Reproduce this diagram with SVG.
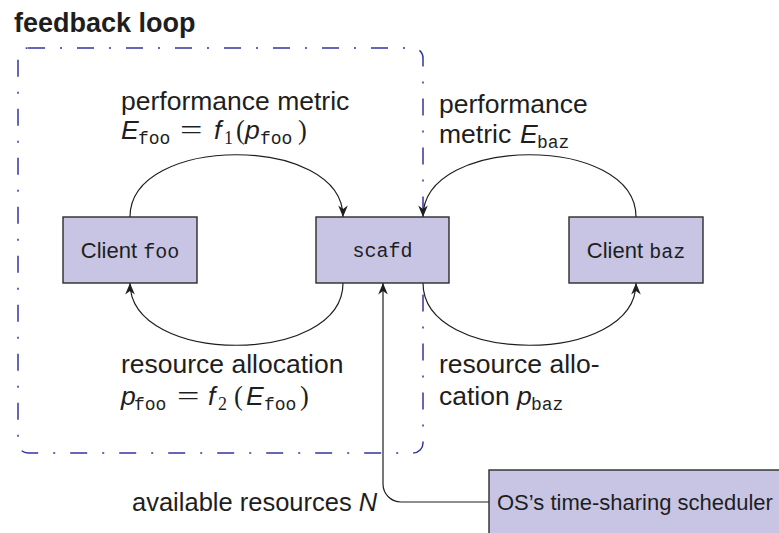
<svg xmlns="http://www.w3.org/2000/svg" width="779" height="533" viewBox="0 0 779 533">
  <style>
    .box { fill: #c7c5e3; stroke: #2b2b2b; stroke-width: 1.4; }
    .sans { font-family: "Liberation Sans", Arial, sans-serif; fill: #1e1e1e; }
    .lbl { font-size: 26.5px; }
    .mono { font-family: "Liberation Mono", "Courier New", monospace; }
    .ser { font-family: "Liberation Serif", "Times New Roman", serif; }
    .it { font-style: italic; }
    .sub { font-size: 18px; }
    .edge { fill: none; stroke: #1e1e1e; stroke-width: 1.2; marker-end: url(#stealth); }
    .loop { fill: none; stroke: #34349c; stroke-width: 1.5; stroke-dasharray: 17 15 2 15; }
  </style>
  <defs>
    <marker id="stealth" viewBox="-12 -5 13 10" refX="0" refY="0" markerWidth="13" markerHeight="10" markerUnits="userSpaceOnUse" orient="auto">
      <path d="M0,0 L-11.5,-4.8 L-8,0 L-11.5,4.8 Z" fill="#1e1e1e"/>
    </marker>
  </defs>

  <rect width="779" height="533" fill="#ffffff"/>

  <!-- title -->
  <text x="14" y="32" class="sans" font-size="27" font-weight="bold">feedback loop</text>

  <!-- feedback loop boundary -->
  <rect class="loop" x="18" y="48" width="405" height="405" rx="10" ry="10"/>

  <!-- connectors -->
  <g id="connectors">
    <path class="edge" d="M130,217 C130,134 343,134 343,217"/>
    <path class="edge" d="M636,217 C636,134 423,134 423,217"/>
    <path class="edge" d="M343,283 C343,366 130,366 130,283"/>
    <path class="edge" d="M423,283 C423,366 636,366 636,283"/>
    <path class="edge" d="M489,502 H401 A18,18 0 0 1 383,484 V283"/>
  </g>

  <!-- nodes -->
  <g id="client-foo">
    <rect class="box" x="63" y="217" width="134" height="66"/>
    <text x="130" y="258" text-anchor="middle" class="sans" font-size="22">Client <tspan class="mono" font-size="20">foo</tspan></text>
  </g>
  <g id="scafd">
    <rect class="box" x="316" y="217" width="133" height="66"/>
    <text x="382.5" y="257" text-anchor="middle" class="sans mono" font-size="20">scafd</text>
  </g>
  <g id="client-baz">
    <rect class="box" x="569" y="217" width="134" height="66"/>
    <text x="636" y="258" text-anchor="middle" class="sans" font-size="22">Client <tspan class="mono" font-size="20">baz</tspan></text>
  </g>
  <g id="scheduler">
    <rect class="box" x="489" y="470" width="320" height="100"/>
    <text x="497" y="510" class="sans" font-size="22">OS’s time-sharing scheduler</text>
  </g>

  <!-- edge labels -->
  <g id="label-metric-foo" class="sans lbl">
    <text x="121" y="110">performance metric</text>
    <text y="139"><tspan x="121" class="it">E</tspan><tspan x="138" dy="5" class="mono sub">foo</tspan><tspan x="214" dy="-5" class="it">f</tspan><tspan x="224" dy="5" class="ser sub">1</tspan><tspan x="236" dy="-5" class="ser">(</tspan><tspan x="245" class="it">p</tspan><tspan x="260" dy="5" class="mono sub">foo</tspan><tspan x="298" dy="-5" class="ser">)</tspan></text>
    <text class="ser" transform="translate(180,139) scale(1.5,1)">=</text>
  </g>
  <g id="label-metric-baz" class="sans lbl">
    <text x="439" y="113">performance</text>
    <text y="143"><tspan x="439">metric </tspan><tspan x="520" class="it">E</tspan><tspan x="537" dy="5" class="mono sub">baz</tspan></text>
  </g>
  <g id="label-alloc-foo" class="sans lbl">
    <text x="121" y="373">resource allocation</text>
    <text y="405"><tspan x="121" class="it">p</tspan><tspan x="134" dy="5" class="mono sub">foo</tspan><tspan x="208" dy="-5" class="it">f</tspan><tspan x="218" dy="5" class="ser sub">2</tspan><tspan x="234" dy="-5" class="ser">(</tspan><tspan x="246" class="it">E</tspan><tspan x="264" dy="5" class="mono sub">foo</tspan><tspan x="300" dy="-5" class="ser">)</tspan></text>
    <text class="ser" transform="translate(177,405) scale(1.5,1)">=</text>
  </g>
  <g id="label-alloc-baz" class="sans lbl">
    <text x="439" y="373">resource allo-</text>
    <text y="405"><tspan x="439">cation </tspan><tspan x="517" class="it">p</tspan><tspan x="531" dy="5" class="mono sub">baz</tspan></text>
  </g>
  <g id="label-resources" class="sans">
    <text x="132" y="511" font-size="25.5">available resources <tspan class="it">N</tspan></text>
  </g>
</svg>
